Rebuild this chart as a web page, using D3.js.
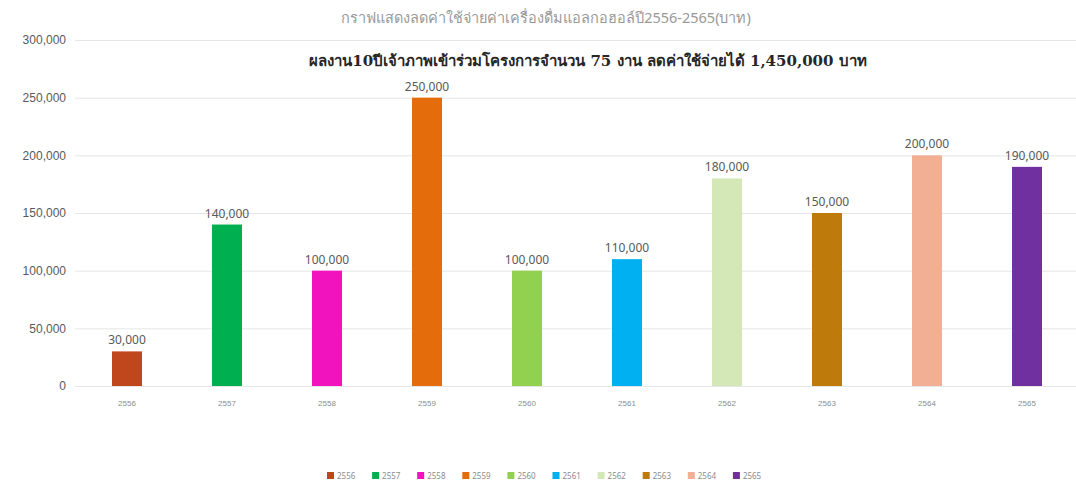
<!DOCTYPE html>
<html>
<head>
<meta charset="utf-8">
<script src="https://cdn.jsdelivr.net/npm/d3@7"></script>
<style>
  body { margin: 0; background: #fff; }
  svg { font-family: "Noto Sans", "DejaVu Sans", sans-serif; }
  .grid line { stroke: #e6e6e6; }
  .y-axis text { fill: #595959; font-size: 12px; }
  .x-axis text { fill: #8c8c8c; font-size: 8px; }
  .val { fill: #595959; font-size: 12px; }
  .legend text { fill: #8c8c8c; font-size: 8px; }
</style>
</head>
<body>
<svg width="1076" height="485"></svg>
<script>
const w = 1076, h = 485;
const marginL = 77, marginR = -1, marginT = 40, marginB = 99;

const years  = ["2556","2557","2558","2559","2560","2561","2562","2563","2564","2565"];
const values = [30000, 140000, 100000, 250000, 100000, 110000, 180000, 150000, 200000, 190000];
const colors = ["#C0471C","#00B050","#F013BE","#E46C0A","#92D050","#00B0F0","#D3E8B6","#BF7A0C","#F2AF94","#7030A0"];
const yTicks = [0, 50000, 100000, 150000, 200000, 250000, 300000];

const title1 = "กราฟแสดงลดค่าใช้จ่ายค่าเครื่องดื่มแอลกอฮอล์ปี2556-2565(บาท)";
const title2 = "ผลงาน10ปีเจ้าภาพเข้าร่วมโครงการจำนวน 75 งาน ลดค่าใช้จ่ายได้ 1,450,000 บาท";

const svg = d3.select("svg");
const scaleX = d3.scaleBand().domain(years).range([marginL, w - marginR]).paddingInner(0.7).paddingOuter(0.35);
const scaleY = d3.scaleLinear().domain([0, 300000]).range([h - marginB, marginT]);
const color  = d3.scaleOrdinal(years, colors);
const format = d3.format(",");

// gridlines
svg.append("g").attr("class", "grid")
    .selectAll("line")
    .data(yTicks)
    .join("line")
    .attr("x1", 75).attr("x2", w)
    .attr("y1", d => scaleY(d) + 0.5).attr("y2", d => scaleY(d) + 0.5);

// y axis labels
const yG = svg.append("g").attr("class", "y-axis")
    .attr("transform", `translate(${[66, 0]})`)
    .call(d3.axisLeft(scaleY).tickValues(yTicks).tickFormat(format).tickSize(0).tickPadding(0));
yG.select(".domain").remove();

// x axis labels
const xG = svg.append("g").attr("class", "x-axis")
    .attr("transform", `translate(${[0, h - marginB + 14]})`)
    .call(d3.axisBottom(scaleX).tickSize(0).tickPadding(0));
xG.select(".domain").remove();

// bars
svg.selectAll("rect.bar")
    .data(years)
    .join("rect").attr("class", "bar")
    .attr("x", d => scaleX(d))
    .attr("width", scaleX.bandwidth())
    .attr("y", (d, i) => scaleY(values[i]))
    .attr("height", (d, i) => scaleY(0) - scaleY(values[i]))
    .style("fill", d => color(d));

svg.selectAll("text.val")
    .data(years)
    .join("text").attr("class", "val")
    .attr("x", d => scaleX(d) + scaleX.bandwidth() / 2)
    .attr("y", (d, i) => scaleY(values[i]) - 7)
    .attr("text-anchor", "middle")
    .text((d, i) => format(values[i]));

// titles
svg.append("text")
    .attr("x", 546).attr("y", 23)
    .attr("text-anchor", "middle")
    .style("font-size", "14.5px").style("fill", "#999")
    .text(title1);
svg.append("text")
    .attr("x", 588).attr("y", 66)
    .attr("text-anchor", "middle")
    .style("font-family", "'DejaVu Serif', 'Liberation Serif', serif")
    .style("font-weight", "bold").style("font-size", "15px").style("fill", "#262626")
    .text(title2);

// legend
const legend = svg.append("g").attr("class", "legend")
    .attr("transform", `translate(${[327, 472]})`);
legend.selectAll("g.item")
    .data(years)
    .join("g").attr("class", "item")
    .each(function(d, i) {
        d3.select(this).append("rect")
            .attr("x", i * 45.1).attr("y", 0)
            .attr("width", 7).attr("height", 7)
            .style("fill", color(d));
        d3.select(this).append("text")
            .attr("x", i * 45.1 + 10).attr("y", 7)
            .text(d);
    });
</script>
</body>
</html>
